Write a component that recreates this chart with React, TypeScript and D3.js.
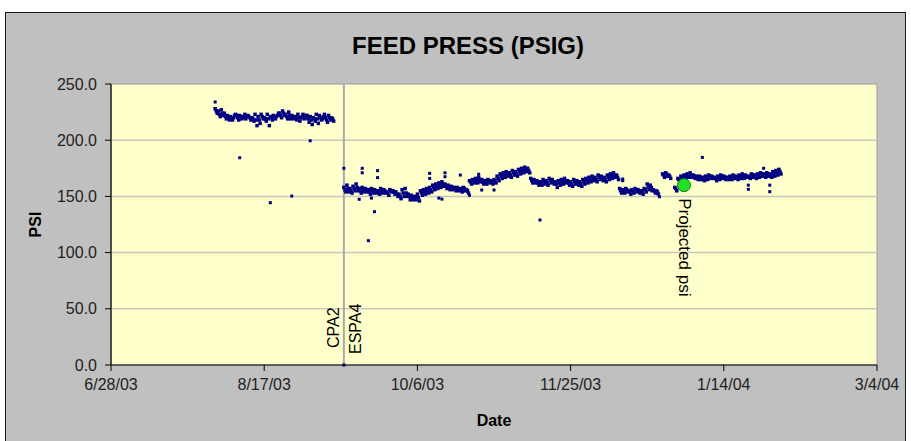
import React from "react";
import * as d3 from "d3";

const xTickLabels = ["6/28/03", "8/17/03", "10/6/03", "11/25/03", "1/14/04", "3/4/04"];
const yTicks = [0, 50, 100, 150, 200, 250];

// daily readings (three per day), first segment
const seg1Start = "8/1/03";
const seg1Readings: number[][] = [
  [228, 226, 224], [226, 223, 221], [227, 224, 222], [224, 221, 219], [222, 220, 218], [221, 219, 218], [220, 222, 223], [222, 220, 218], [222, 221, 219], [220, 221, 223],
  [219, 221, 222], [221, 220, 218], [220, 219, 217], [223, 218, 213], [221, 218, 215], [223, 221, 219], [220, 219, 217], [223, 219, 213], [221, 220, 218], [222, 221, 219],
  [221, 222, 224], [224, 222, 220], [226, 224, 222], [223, 221, 219], [225, 222, 219], [222, 221, 219], [221, 220, 218], [223, 220, 217], [220, 221, 223], [219, 220, 222],
  [222, 219, 216], [221, 218, 214], [220, 219, 217], [223, 219, 215], [222, 220, 218], [219, 221, 223], [220, 218, 216], [222, 220, 218], [220, 219, 217],
];

// daily readings (three per day), second segment
const seg2Start = "9/12/03";
const seg2Readings: number[][] = [
  [158, 156, 154], [160, 157, 154], [157, 155, 153], [159, 157, 155], [161, 158, 155], [157, 155, 153], [158, 156, 154], [157, 156, 154], [156, 154, 152], [157, 155, 153],
  [156, 155, 153], [155, 154, 152], [157, 155, 153], [156, 155, 153], [154, 153, 151], [156, 155, 154], [155, 154, 152], [154, 152, 150], [152, 150, 148], [156, 153, 150],
  [157, 153, 150], [152, 150, 147], [151, 149, 147], [150, 149, 147], [152, 149, 146],
  [155, 153, 151], [156, 154, 152], [157, 155, 153], [158, 156, 154], [160, 158, 156], [161, 159, 157],
  [162, 160, 158], [163, 161, 159], [161, 159, 157], [160, 158, 156], [159, 158, 156], [158, 157, 155], [158, 156, 155],
  [157, 156, 154], [158, 157, 155], [156, 155, 153],
  [164, 163, 161], [165, 164, 162], [166, 164, 162], [167, 165, 163], [165, 163, 161], [164, 163, 161], [165, 164, 162],
  [164, 163, 161], [165, 164, 162],
  [168, 166, 164], [170, 168, 166], [171, 169, 167], [172, 170, 168], [171, 169, 167], [173, 171, 169], [172, 170, 168], [174, 172, 170], [175, 173, 171], [176, 174, 172], [175, 173, 171],
  [166, 164, 162], [165, 164, 162], [164, 162, 160], [163, 162, 160], [165, 163, 161], [164, 162, 160], [166, 164, 162], [165, 163, 161], [163, 161, 158], [164, 162, 160],
  [165, 163, 161], [166, 164, 162], [164, 162, 160], [163, 161, 159], [165, 163, 161], [164, 162, 160], [163, 161, 159], [165, 163, 161],
  [166, 164, 162], [167, 165, 163], [168, 166, 164], [167, 165, 163], [169, 167, 165], [168, 166, 164], [167, 165, 163], [169, 167, 165], [170, 168, 166], [171, 169, 167], [169, 167, 165],
  [157, 155, 153], [156, 155, 153], [157, 156, 154], [155, 154, 152], [156, 155, 153], [157, 156, 154],
  [156, 155, 153], [155, 154, 152], [157, 156, 154], [161, 158, 156], [160, 158, 155], [156, 155, 153], [155, 154, 152],
  [],
  [170, 169, 167], [171, 170, 168], [169, 168, 166],
  [],
  [158, 157, 155],
  [166, 165, 163], [168, 167, 165], [169, 168, 166], [170, 168, 167], [171, 169, 167], [169, 168, 166], [168, 167, 165],
  [168, 167, 165], [167, 166, 164], [168, 167, 165], [169, 168, 166], [168, 167, 166], [167, 166, 164], [168, 167, 165], [169, 168, 166], [168, 167, 165], [167, 166, 165],
  [168, 167, 165], [169, 168, 166], [168, 167, 165], [169, 168, 166], [170, 168, 166], [169, 168, 167], [168, 167, 166], [170, 169, 167], [169, 168, 166], [170, 169, 167],
  [171, 170, 168], [170, 169, 167], [171, 170, 168], [170, 169, 167], [172, 170, 168], [173, 171, 169], [174, 172, 170],
];

const outlierDates = [
  "8/1/03", "8/9/03", "8/19/03", "8/26/03", "9/1/03", "9/12/03", "9/12/03",
  "9/17/03", "9/18/03", "9/18/03", "9/20/03", "9/21/03", "9/22/03", "9/23/03", "9/23/03",
  "10/10/03", "10/10/03", "10/13/03", "10/14/03", "10/15/03", "10/15/03", "10/20/03", "10/23/03",
  "10/26/03", "10/27/03", "10/31/03", "11/15/03", "12/12/03", "12/12/03", "12/24/03",
  "1/7/04", "1/22/04", "1/22/04", "1/27/04", "1/29/04", "1/29/04",
];
const outlierValues = [
  234, 184.4, 144.4, 150.3, 199.5, 175, 0,
  147.4, 175, 171, 110.6, 148.5, 136.4, 172.9, 166.7,
  170.5, 166, 148.5, 147.6, 171, 167.5, 169, 151,
  169.7, 155.7, 155.7, 129, 165.5, 164, 149.7,
  184.7, 160, 156.3, 175, 160, 154.2,
];

const eventDate = "9/12/03";
const eventLabels = ["CPA2", "ESPA4"];
const projectedDate = "1/1/04";
const projectedValue = 160;
const projectedLabel = "Projected psi";

const W = 911;
const H = 441;
const left = 111;
const right = 877;
const top = 84;
const bottom = 365;

const parse = d3.utcParse("%m/%d/%y");
const DAY = 86400000;

export default function App() {
  const xDomain = [parse(xTickLabels[0])!, parse(xTickLabels[xTickLabels.length - 1])!];
  const x = d3.scaleUtc().domain(xDomain).range([left, right]);
  const y = d3.scaleLinear().domain([0, 250]).range([bottom, top]);

  const points: { t: Date; v: number; s: number }[] = [];
  const addSeg = (start: string, readings: number[][]) => {
    const s = parse(start)!.getTime();
    readings.forEach((day, di) => {
      day.forEach((v, i) => {
        points.push({ t: new Date(s + di * DAY + (i * DAY) / day.length), v, s: 3.5 });
      });
    });
  };
  addSeg(seg1Start, seg1Readings);
  addSeg(seg2Start, seg2Readings);
  outlierDates.forEach((d, i) => points.push({ t: parse(d)!, v: outlierValues[i], s: 3 }));

  const ex = x(parse(eventDate)!);
  const px = x(parse(projectedDate)!);
  const py = y(projectedValue);
  const font = "'Liberation Sans', Arial, sans-serif";

  return (
    <svg width={W} height={H} style={{ position: "absolute", left: 0, top: 0 }} fontFamily={font}>
      <rect x={0} y={0} width={W} height={H} fill="#ffffff" />
      <rect x={5.5} y={12.5} width={900} height={440} fill="#c0c0c0" stroke="#1a1a1a" strokeWidth={1} />
      <text x={468} y={54} textAnchor="middle" fontSize={24} fontWeight="bold" fill="#000">
        FEED PRESS (PSIG)
      </text>
      <rect x={left} y={top} width={right - left} height={bottom - top} fill="#ffffcc" stroke="#9a9a9a" strokeWidth={1} />
      {yTicks.filter((t) => t > 0 && t < 250).map((t) => (
        <line key={"g" + t} x1={left} x2={right} y1={y(t)} y2={y(t)} stroke="#c8c8c0" strokeWidth={1.5} />
      ))}
      <line x1={ex} x2={ex} y1={top} y2={bottom} stroke="#a8a8a8" strokeWidth={2} />
      {points.map((p, i) => (
        <rect key={i} x={x(p.t) - p.s / 2} y={y(p.v) - p.s / 2} width={p.s} height={p.s} fill="#000080" />
      ))}
      <circle cx={px} cy={py} r={6.5} fill="#22e022" stroke="#118811" strokeWidth={1} />
      <line x1={left} x2={left} y1={top} y2={bottom} stroke="#000" strokeWidth={1.2} />
      <line x1={left} x2={right} y1={bottom} y2={bottom} stroke="#000" strokeWidth={1.2} />
      {yTicks.map((t) => (
        <g key={"y" + t}>
          <line x1={left - 6} x2={left} y1={y(t)} y2={y(t)} stroke="#000" />
          <text x={97} y={y(t) + 5.5} textAnchor="end" fontSize={16} fill="#222">
            {t.toFixed(1)}
          </text>
        </g>
      ))}
      {xTickLabels.map((l) => {
        const tx = x(parse(l)!);
        return (
          <g key={l}>
            <line x1={tx} x2={tx} y1={bottom} y2={bottom + 6} stroke="#000" />
            <text x={tx} y={390} textAnchor="middle" fontSize={16} fill="#222">
              {l}
            </text>
          </g>
        );
      })}
      <text x={(left + right) / 2} y={426} textAnchor="middle" fontSize={16} fontWeight="bold" fill="#000">
        Date
      </text>
      <text transform={`translate(41,${(top + bottom) / 2}) rotate(-90)`} textAnchor="middle" fontSize={16} fontWeight="bold" fill="#000">
        PSI
      </text>
      <text transform={`translate(${ex - 5},348) rotate(-90)`} fontSize={16} fill="#000">
        {eventLabels[0]}
      </text>
      <text transform={`translate(${ex + 17},354) rotate(-90)`} fontSize={16} fill="#000">
        {eventLabels[1]}
      </text>
      <text transform={`translate(${px - 5},${py + 13}) rotate(90)`} fontSize={17} fill="#000">
        {projectedLabel}
      </text>
    </svg>
  );
}
